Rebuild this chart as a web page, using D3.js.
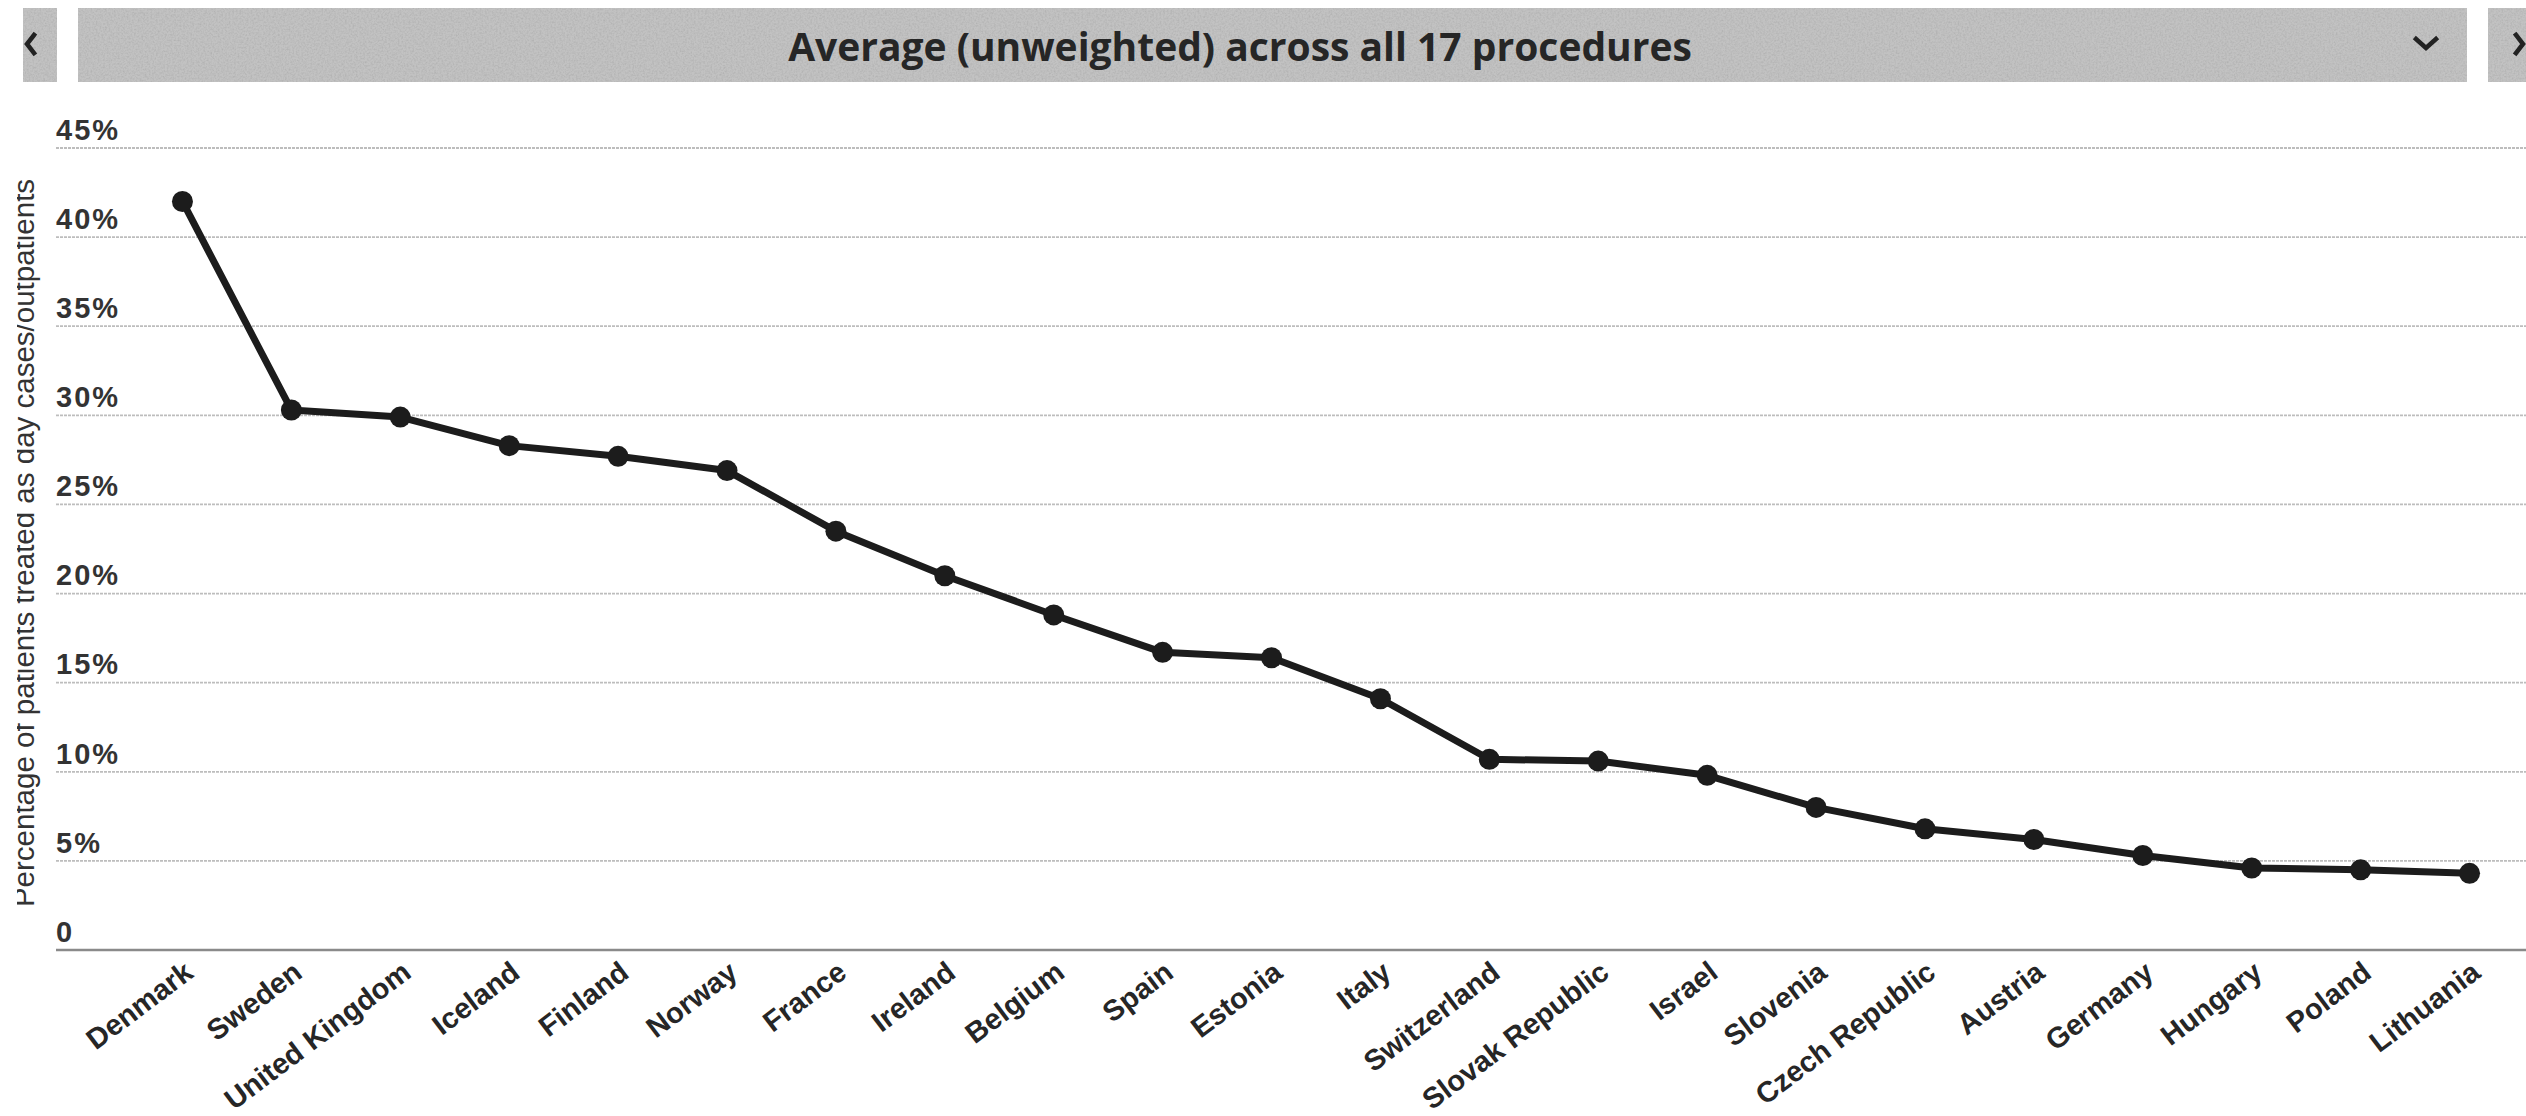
<!DOCTYPE html>
<html>
<head>
<meta charset="utf-8">
<script src="https://cdn.jsdelivr.net/npm/d3@7/dist/d3.min.js"></script>
<style>
  html, body { margin: 0; padding: 0; background: #fff; }
  svg { display: block; }
</style>
</head>
<body>
<svg id="chart" width="2526" height="1116"></svg>
<script>
// Day-case share by country, average (unweighted) across 17 procedures
const countries = [
  "Denmark", "Sweden", "United Kingdom", "Iceland", "Finland", "Norway",
  "France", "Ireland", "Belgium", "Spain", "Estonia", "Italy",
  "Switzerland", "Slovak Republic", "Israel", "Slovenia", "Czech Republic",
  "Austria", "Germany", "Hungary", "Poland", "Lithuania"
];
const shareValues = [
  42.0, 30.3, 29.9, 28.3, 27.7, 26.9,
  23.5, 21.0, 18.8, 16.7, 16.4, 14.1,
  10.7, 10.6, 9.8, 8.0, 6.8,
  6.2, 5.3, 4.6, 4.5, 4.3
];
const yTicks = [0, 5, 10, 15, 20, 25, 30, 35, 40, 45];
const titleText = "Average (unweighted) across all 17 procedures";
const yAxisTitle = "Percentage of patients treated as day cases/outpatients";

const W = 2526, H = 1116;
const svg = d3.select("#chart");

// ---- grainy header bar -------------------------------------------------
const defs = svg.append("defs");
const grain = defs.append("filter").attr("id", "grain")
  .attr("x", 0).attr("y", 0).attr("width", 1).attr("height", 1);
grain.append("feTurbulence").attr("type", "fractalNoise")
  .attr("baseFrequency", "0.55").attr("numOctaves", 2).attr("seed", 4).attr("result", "n");
grain.append("feColorMatrix").attr("in", "n").attr("type", "matrix")
  .attr("values", "0 0 0 0 0.42  0 0 0 0 0.42  0 0 0 0 0.42  1.6 0 0 0 -0.6")
  .attr("result", "dots");
grain.append("feComposite").attr("in", "dots").attr("in2", "SourceGraphic")
  .attr("operator", "atop");

// clip for the axis title, which runs off the left edge of the panel
defs.append("clipPath").attr("id", "leftClip")
  .append("rect").attr("x", 17).attr("y", 0).attr("width", 200).attr("height", H);

const header = svg.append("g");
const boxes = [
  {x: 23, w: 34},
  {x: 78, w: 2389},
  {x: 2488, w: 40}
];
header.selectAll("rect.hb").data(boxes).join("rect")
  .attr("class", "hb")
  .attr("x", d => d.x).attr("y", 8)
  .attr("width", d => d.w).attr("height", 74)
  .attr("fill", "#c2c2c2")
  .attr("filter", "url(#grain)");

header.append("text")
  .attr("x", 1240).attr("y", 45)
  .attr("text-anchor", "middle").attr("dominant-baseline", "central")
  .attr("font-family", "'Open Sans', sans-serif")
  .attr("font-weight", 700).attr("font-size", 39)
  .attr("fill", "#262626")
  .text(titleText);

// navigation chevrons
const chev = header.append("g").attr("fill", "none").attr("stroke", "#222")
  .attr("stroke-width", 4.5).attr("stroke-linecap", "square");
chev.append("path").attr("d", "M34,35 L27,44 L34,53");
chev.append("path").attr("d", "M2516,35 L2523,44 L2516,53");
chev.append("path").attr("d", "M2416,39 L2426,48 L2436,39");

// ---- scales -----------------------------------------------------------
const x = d3.scalePoint().domain(countries).range([128, 2524]).padding(0.5);
const y = d3.scaleLinear().domain([0, 45]).range([950, 148]);

// ---- gridlines and y labels -------------------------------------------
const grid = svg.append("g");
grid.selectAll("line").data(yTicks).join("line")
  .attr("x1", 56).attr("x2", W)
  .attr("y1", d => y(d)).attr("y2", d => y(d))
  .attr("stroke", d => d === 0 ? "#8a8a8a" : "#bdbdbd")
  .attr("stroke-width", d => d === 0 ? 2.5 : 1.8)
  .attr("stroke-dasharray", d => d === 0 ? null : "3 1");

const yAxis = d3.axisLeft(y).tickValues(yTicks)
  .tickFormat(d => d === 0 ? "0" : d + "%").tickSize(0);
const yAxisG = svg.append("g").attr("transform", "translate(56,0)").call(yAxis);
yAxisG.select(".domain").remove();
yAxisG.selectAll("text")
  .attr("x", 0).attr("dy", "-0.3em")
  .attr("text-anchor", "start")
  .attr("font-family", "'Liberation Sans', Arial, sans-serif")
  .attr("font-weight", 700).attr("font-size", 29)
  .attr("letter-spacing", 2)
  .attr("fill", "#333");

// y axis title
svg.append("g").attr("clip-path", "url(#leftClip)")
  .append("text")
  .attr("transform", `translate(34,${(y(0) + y(45)) / 2 - 6}) rotate(-90)`)
  .attr("text-anchor", "middle")
  .attr("font-family", "'Liberation Sans', Arial, sans-serif")
  .attr("font-size", 29.5)
  .attr("fill", "#333")
  .text(yAxisTitle);

// ---- x labels ---------------------------------------------------------
const xAxis = d3.axisBottom(x).tickSize(0);
const xAxisG = svg.append("g").attr("transform", `translate(0,${y(0)})`).call(xAxis);
xAxisG.select(".domain").remove();
xAxisG.selectAll("text")
  .attr("text-anchor", "end")
  .attr("dy", 0)
  .attr("transform", "translate(12,26) rotate(-37)")
  .attr("y", 0)
  .attr("font-family", "'Liberation Sans', Arial, sans-serif")
  .attr("font-weight", 700).attr("font-size", 29)
  .attr("fill", "#262626");

// ---- series -----------------------------------------------------------
const data = countries.map((c, i) => ({c, v: shareValues[i]}));
const line = d3.line().x(d => x(d.c)).y(d => y(d.v));

svg.append("path").datum(data)
  .attr("d", line)
  .attr("fill", "none")
  .attr("stroke", "#1c1c1c")
  .attr("stroke-width", 7)
  .attr("stroke-linejoin", "round");

svg.append("g").selectAll("circle").data(data).join("circle")
  .attr("cx", d => x(d.c)).attr("cy", d => y(d.v))
  .attr("r", 10.5)
  .attr("fill", "#1c1c1c");
</script>
</body>
</html>
